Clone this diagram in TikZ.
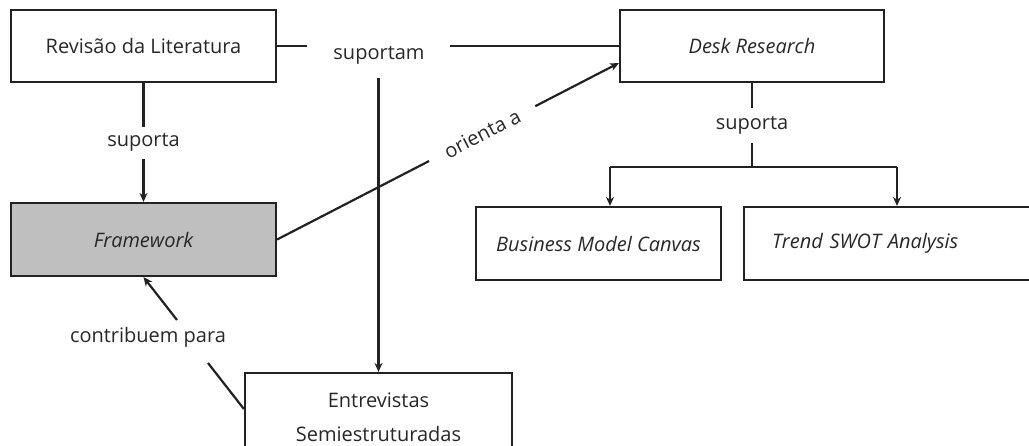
\documentclass[tikz,border=0pt]{standalone}
\usepackage{fontspec}
\setmainfont{Open Sans}
\usetikzlibrary{arrows.meta}
\definecolor{ink}{HTML}{222222}
\definecolor{txt}{HTML}{282828}
\definecolor{shade}{HTML}{BFBFBF}
\tikzset{
  box/.style={draw=ink, line width=2.2pt, fill=white, text=txt, inner sep=0pt,
    font=\fontsize{20}{34}\selectfont, align=center},
  lbl/.style={text=txt, inner sep=0pt, font=\fontsize{20}{24}\selectfont},
  conn/.style={draw=ink, line width=2.2pt},
  arr/.style={conn, -{Stealth[length=9pt,width=8pt]}},
}
\begin{document}
\begin{tikzpicture}[x=1pt, y=-1pt]
\useasboundingbox (0,0) rectangle (1029,445);

% boxes
\node[box, minimum width=265pt, minimum height=72pt] (rev) at (143.5,46) {Revisão da Literatura};
\node[box, fill=shade, minimum width=265pt, minimum height=73pt] (frame) at (143.5,239.5) {\itshape Framework};
\node[box, minimum width=264pt, minimum height=72pt] (desk) at (752,46) {\itshape Desk Research};
\node[box, minimum width=245pt, minimum height=73pt] (bmc) at (598.5,243.5) {\itshape Business Model Canvas};
\node[box, minimum height=73pt, text width=234pt, inner xsep=28pt, align=left] (trend) at (889,243.5) {\itshape Trend SWOT Analysis};
\node[box, minimum width=267pt, minimum height=89pt] (entr) at (378.5,417.5) {Entrevistas\\Semiestruturadas};

% Revisão da Literatura -- suportam -- Desk Research
\coordinate (sl) at (307,46);
\coordinate (sr) at (450,46);
\node[lbl] (sup) at (379,55) {suportam};
\draw[conn] (rev.east) -- (sl);
\draw[conn] (sr) -- (desk.west);
\coordinate (sd) at (378.5,78);
\draw[arr] (sd) -- (entr.north);

% Revisão da Literatura -> Framework
\draw[arr] (rev.south) -- node[lbl, fill=white, minimum height=32pt] (s1) {suporta} (frame.north);

% Framework -> Desk Research
\draw[arr] (frame.east) -- node[lbl, pos=0.6, sloped, fill=white, inner xsep=18pt, minimum height=20pt] (ori) {orienta a} ([yshift=-17pt]desk.west);

% Desk Research -> the two analysis boxes
\coordinate (j) at (752,167);
\coordinate (bl) at (610,167);
\coordinate (br) at (897,167);
\draw[conn] (desk.south) -- node[lbl, fill=white, minimum height=35pt] (s2) {suporta} (j);
\draw[conn] (bl) -- (br);
\draw[arr] (bl) -- (bl |- bmc.north);
\draw[arr] (br) -- (br |- trend.north);

% Entrevistas -> Framework
\coordinate (c1) at (208,363);
\coordinate (c2) at (177,320);
\node[lbl] (con) at (148,337) {contribuem para};
\draw[conn] (entr.west |- 0,409) -- (c1);
\draw[arr] (c2) -- (frame.south);
\end{tikzpicture}
\end{document}
